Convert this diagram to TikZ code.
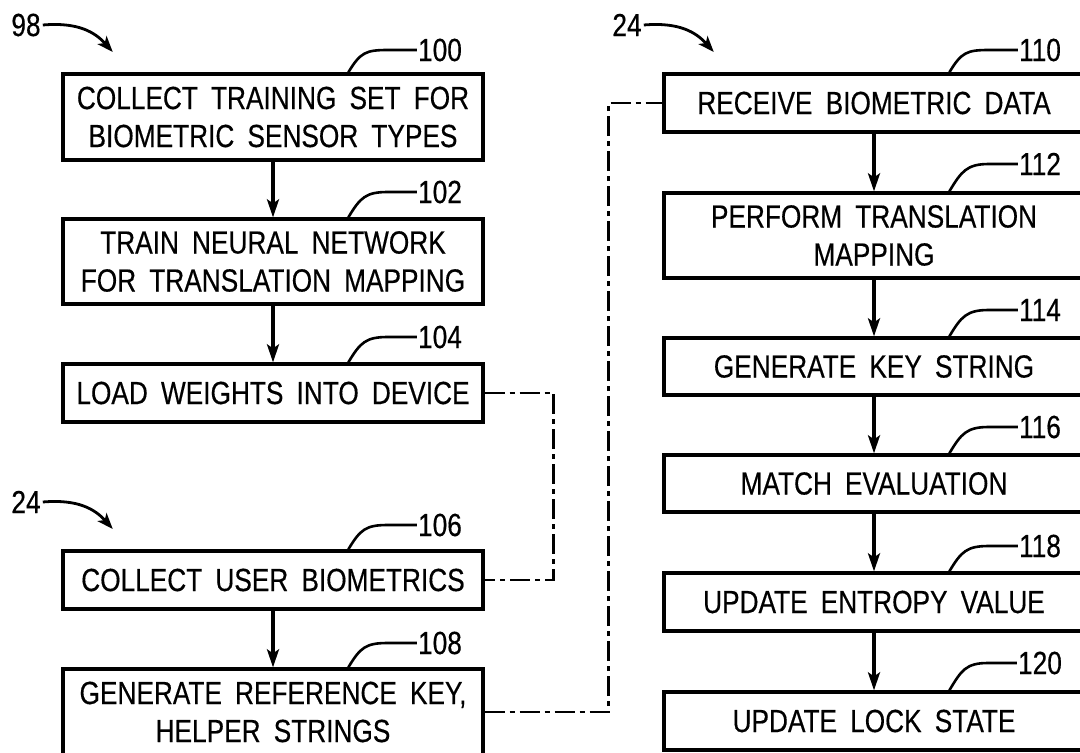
\documentclass[tikz,border=0pt]{standalone}
\usepackage{fontspec}
\setmainfont[FakeStretch=0.82,WordSpace=1.8,FakeBold=0.4]{Liberation Sans}
\usetikzlibrary{arrows.meta,calc}
\begin{document}
\begin{tikzpicture}[x=1pt,y=-1pt,
  box/.style={draw,line width=3.3pt,minimum width=420pt,inner sep=0pt,align=center,
    font=\fontsize{32}{38}\selectfont},
  flow/.style={line width=3.2pt,-{Stealth[length=18pt,width=12pt,inset=4pt]}},
  refarrow/.style={line width=2.8pt,-{Stealth[length=16pt,width=12pt,inset=4pt]}},
  leader/.style={line width=2.6pt},
  dashdot/.style={line width=2.8pt,dash pattern=on 20pt off 5pt on 5pt off 5pt},
  lbl/.style={inner sep=0pt,font=\fontsize{32}{38}\selectfont}]
\useasboundingbox (0,0) rectangle (1080,753);
\fill[white] (0,0) rectangle (1080,753);
\clip (0,0) rectangle (1080,753);

% left column
\node[box,minimum height=86pt] (b100) at (273,117) {COLLECT TRAINING SET FOR\\BIOMETRIC SENSOR TYPES};
\node[box,minimum height=85pt] (b102) at (273,261.5) {TRAIN NEURAL NETWORK\\FOR TRANSLATION MAPPING};
\node[box,minimum height=58pt] (b104) at (273,393) {LOAD WEIGHTS INTO DEVICE};
\node[box,minimum height=58pt] (b106) at (273,580) {COLLECT USER BIOMETRICS};
\node[box,minimum height=86pt] (b108) at (273,712) {GENERATE REFERENCE KEY,\\HELPER STRINGS};

% right column
\node[box,minimum height=58pt] (b110) at (874,103) {RECEIVE BIOMETRIC DATA};
\node[box,minimum height=85pt] (b112) at (874,235.5) {PERFORM TRANSLATION\\MAPPING};
\node[box,minimum height=57pt] (b114) at (874,366.5) {GENERATE KEY STRING};
\node[box,minimum height=57pt] (b116) at (874,483.5) {MATCH EVALUATION};
\node[box,minimum height=58pt] (b118) at (874,602) {UPDATE ENTROPY VALUE};
\node[box,minimum height=58pt] (b120) at (874,721) {UPDATE LOCK STATE};

% flow arrows
\draw[flow] (b100) -- (b102);
\draw[flow] (b102) -- (b104);
\draw[flow] (b106) -- (b108);
\draw[flow] (b110) -- (b112);
\draw[flow] (b112) -- (b114);
\draw[flow] (b114) -- (b116);
\draw[flow] (b116) -- (b118);
\draw[flow] (b118) -- (b120);

% dash-dot links
\draw[dashdot] (b104.east) -- ++(69,0) |- (b106.east);
\draw[dashdot] (b108.east) -- ++(124,0) |- (b110.west);

% reference labels
\node[lbl] (l100) at (440,50) {100};
\node[lbl] (l102) at (440,192) {102};
\node[lbl] (l104) at (440,337) {104};
\node[lbl] (l106) at (440,525) {106};
\node[lbl] (l108) at (440,643) {108};
\node[lbl] (l110) at (1040,50) {110};
\node[lbl] (l112) at (1040,164) {112};
\node[lbl] (l114) at (1040,310) {114};
\node[lbl] (l116) at (1040,427) {116};
\node[lbl] (l118) at (1040,546) {118};
\node[lbl] (l120) at (1040,663) {120};

\foreach \b/\l in {b100/l100,b102/l102,b104/l104,b106/l106,b108/l108,
                   b110/l110,b112/l112,b114/l114,b116/l116,b118/l118,b120/l120}{
  \draw[leader] ($(\b.north west)+(287,0)$) .. controls +(12,-20) and +(-22,0) .. ([xshift=-30pt]\l.west) -- ([xshift=-1pt]\l.west);
}

% figure reference arrows
\node[lbl] (r98) at (26,25) {98};
\node[lbl] (r24a) at (627,25) {24};
\node[lbl] (r24b) at (26,502) {24};
\draw[refarrow] ([xshift=2pt]r98.east) .. controls +(35,-3) and +(-18,-20) .. ++(70,27);
\draw[refarrow] ([xshift=2pt]r24a.east) .. controls +(35,-3) and +(-18,-20) .. ++(70,27);
\draw[refarrow] ([xshift=2pt]r24b.east) .. controls +(35,-3) and +(-18,-20) .. ++(70,27);
\end{tikzpicture}
\end{document}
